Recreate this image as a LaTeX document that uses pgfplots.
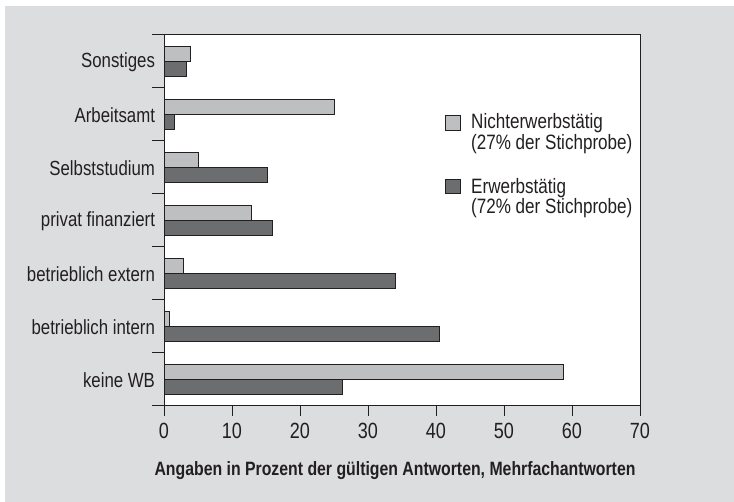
\documentclass[border=0pt]{standalone}
\usepackage{pgfplots}
\pgfplotsset{compat=1.18}
\usepackage{fontspec}
\IfFontExistsTF{Liberation Sans Narrow}{\setmainfont{Liberation Sans Narrow}}{\setmainfont[FakeStretch=0.82]{Liberation Sans}}
\definecolor{bgc}{RGB}{220,221,223}
\definecolor{lightbar}{RGB}{190,191,193}
\definecolor{darkbar}{RGB}{108,109,111}
\definecolor{ink}{RGB}{35,31,32}
\begin{document}
\begin{tikzpicture}[x=1pt,y=1pt]
\useasboundingbox (0,0) rectangle (734,502);
\fill[white] (0,0) rectangle (734,502);
\fill[bgc] (5,0) rectangle (734,496);
\begin{axis}[
  at={(164pt,97pt)}, anchor=south west,
  scale only axis, width=476pt, height=371pt,
  axis background/.style={fill=white},
  axis line style={ink, line width=0.9pt},
  xmin=0, xmax=70, ymin=-0.5, ymax=6.5,
  enlargelimits=false,
  xbar, bar width=15pt,
  xtick={0,10,...,70},
  ytick={0,...,6},
  yticklabels={keine WB,betrieblich intern,betrieblich extern,privat finanziert,Selbststudium,Arbeitsamt,Sonstiges},
  minor ytick={-0.5,0.5,...,6.5},
  tick pos=left, tick align=outside,
  major tick length=11pt, minor tick length=12pt,
  major x tick style={ink, line width=0.9pt},
  major y tick style={draw=none},
  minor y tick style={ink, line width=0.9pt},
  /pgf/number format/assume math mode=true,
  xticklabel style={font=\fontsize{22}{24}\selectfont, text=ink, yshift=-4pt},
  yticklabel style={font=\fontsize{20.5}{24}\selectfont, text=ink, xshift=5.5pt, yshift=-2pt},
  clip=false,
]
\addplot[fill=lightbar, draw=ink, line width=0.8pt, bar shift=6.5pt] coordinates {
(58.7,0) (0.8,1) (2.8,2) (12.9,3) (5.1,4) (25.0,5) (3.9,6)};
\addplot[fill=darkbar, draw=ink, line width=0.8pt, bar shift=-8.5pt] coordinates {
(26.2,0) (40.5,1) (34.0,2) (15.9,3) (15.2,4) (1.5,5) (3.3,6)};
\end{axis}
% legend
\draw[fill=lightbar, draw=ink, line width=0.8pt] (445,372) rectangle (460,387);
\node[anchor=base west, inner sep=0pt, text=ink, font=\fontsize{20.8}{24}\selectfont] at (471,373) {Nichterwerbstätig};
\node[anchor=base west, inner sep=0pt, text=ink, font=\fontsize{20.8}{24}\selectfont] at (471,352) {(27\% der Stichprobe)};
\draw[fill=darkbar, draw=ink, line width=0.8pt] (445,309) rectangle (460,323);
\node[anchor=base west, inner sep=0pt, text=ink, font=\fontsize{20.8}{24}\selectfont] at (471,308) {Erwerbstätig};
\node[anchor=base west, inner sep=0pt, text=ink, font=\fontsize{20.8}{24}\selectfont] at (471,288) {(72\% der Stichprobe)};
% x label
\node[anchor=base, inner sep=0pt, text=ink, font=\fontsize{19.3}{22}\selectfont\bfseries] at (395,26) {Angaben in Prozent der gültigen Antworten, Mehrfachantworten};
\end{tikzpicture}
\end{document}
